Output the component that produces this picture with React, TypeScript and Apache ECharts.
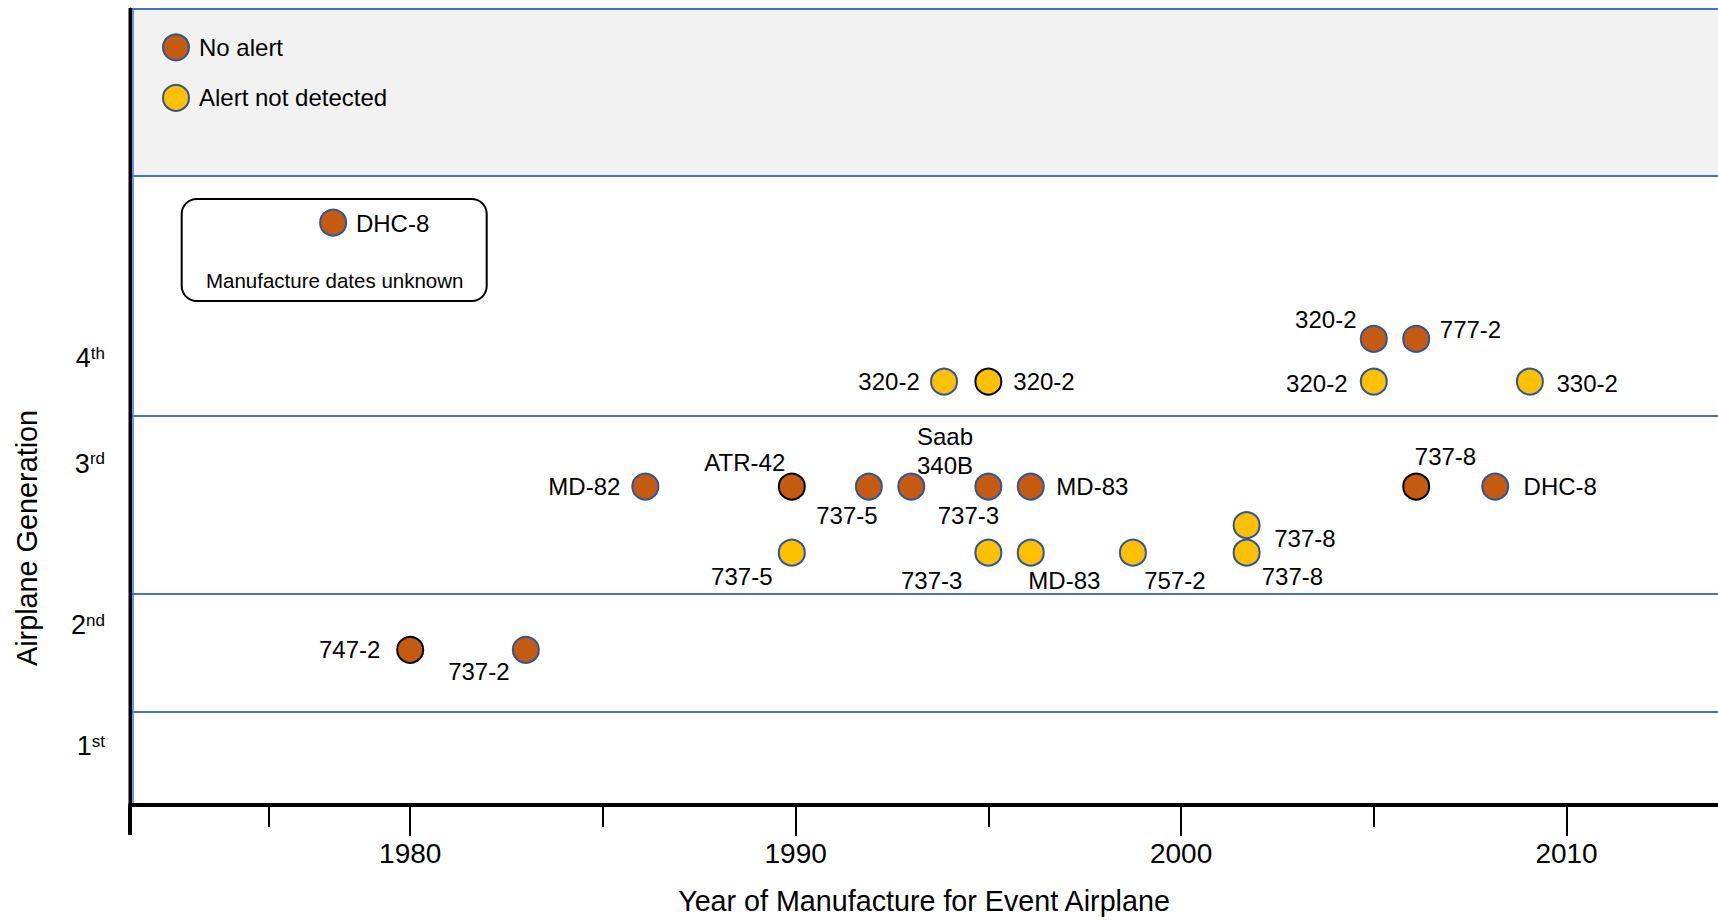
import React, { useEffect, useRef } from 'react';
import * as echarts from 'echarts';

const FONT = '"Liberation Sans", Arial, Helvetica, sans-serif';

// ---------- X axis: year of manufacture ----------
const xMin = 1972.73;
const xMax = 2013.93;
const majorYears = [1980, 1990, 2000, 2010];
const minorYears = [1976.33, 1985, 1995, 2005];

// ---------- Y axis: generation scale (0 = bottom of plot, 100 = top) ----------
const generationBandEdges = [11.75, 26.57, 48.95, 79.02, 100];
const generationLabelLevels = [7.35, 22.6, 42.9, 56.15];
const generationNumbers = ['1', '2', '3', '4'];
const generationSuffixes = ['st', 'nd', 'rd', 'th'];
const legendBandLevels = [79.02, 100];

// ---------- Series: No alert ----------
const noAlertNames = ['DHC-8', '747-2', '737-2', 'MD-82', 'ATR-42', '737-5', 'Saab 340B', '737-3', 'MD-83', '320-2', '777-2', '737-8', 'DHC-8'];
const noAlertYears = [1978, 1980, 1983, 1986.1, 1989.9, 1991.9, 1993, 1995, 1996.1, 2005, 2006.1, 2006.1, 2008.15];
const noAlertLevels = [73.15, 19.5, 19.5, 40, 40, 40, 40, 40, 40, 58.55, 58.55, 40, 40];

// ---------- Series: Alert not detected ----------
const alertNames = ['320-2', '320-2', '737-5', '737-3', 'MD-83', '757-2', '737-8', '737-8', '320-2', '330-2'];
const alertYears = [1993.85, 1995, 1989.9, 1995, 1996.1, 1998.75, 2001.7, 2001.7, 2005, 2009.05];
const alertLevels = [53.2, 53.2, 31.7, 31.7, 31.7, 31.7, 35.15, 31.7, 53.2, 53.2];

// ---------- Styling (label placement / outline per point) ----------
const noAlertLabelOffsets = [[59.5, 1], [-60.5, 0], [-47, 21.5], [-61, 0], [-47, -24], [-22, 28.7], [33.7, -36], [-20, 28.7], [61.6, 0], [-48, -19], [54.3, -9.7], [29.3, -30], [65, 0]];
const noAlertBlackOutline = [false, true, false, false, true, false, false, false, false, false, false, true, false];
const alertLabelOffsets = [[-55, 0], [55.6, 0], [-50, 24], [-56.7, 27.5], [33.6, 27.5], [42, 27.5], [58.3, 12.9], [45.8, 23.7], [-57, 1.7], [57.3, 2]];
const alertBlackOutline = [false, true, false, false, false, false, false, false, false, false];

const BROWN = '#C55A11';
const YELLOW = '#FFC000';
const OUTLINE = '#2F5597';
const GRID_BLUE = '#4472C4';

function buildData(names: string[], years: number[], levels: number[], offsets: number[][], black: boolean[]) {
  return years.map((x, i) => ({
    name: names[i],
    value: [x, levels[i]],
    itemStyle: black[i] ? { borderColor: '#000' } : undefined,
    label: {
      offset: offsets[i],
      formatter: names[i].replace(' ', '\n'),
    },
  }));
}

export default function App() {
  const ref = useRef<HTMLDivElement>(null);

  useEffect(() => {
    if (!ref.current) return;
    const chart = echarts.init(ref.current, undefined, { renderer: 'svg' });

    const labelBase = {
      show: true,
      position: 'inside',
      color: '#000',
      fontSize: 24,
      lineHeight: 29,
      fontFamily: FONT,
    };

    const option: any = {
      animation: false,
      backgroundColor: '#fff',
      textStyle: { fontFamily: FONT },
      grid: { left: 130, right: 0, top: 9, bottom: 113, containLabel: false },
      legend: {
        orient: 'vertical',
        left: 162,
        top: 33.3,
        padding: 0,
        itemWidth: 26,
        itemHeight: 26,
        itemGap: 22.5,
        icon: 'circle',
        itemStyle: { borderColor: OUTLINE, borderWidth: 2 },
        textStyle: { fontSize: 24, color: '#000', fontFamily: FONT, padding: [0, 0, 0, 5] },
        data: ['No alert', 'Alert not detected'],
      },
      xAxis: [
        {
          type: 'value',
          min: xMin,
          max: xMax,
          position: 'bottom',
          name: 'Year of Manufacture for Event Airplane',
          nameLocation: 'middle',
          nameGap: 81,
          nameTextStyle: { fontSize: 28.7, color: '#000', fontFamily: FONT },
          axisLine: { show: true, lineStyle: { color: '#000', width: 4 } },
          axisTick: { show: true, customValues: majorYears, length: 31, lineStyle: { color: '#000', width: 2 } },
          axisLabel: { show: true, customValues: majorYears, margin: 34, fontSize: 28, color: '#000', fontFamily: FONT, formatter: (v: number) => String(Math.round(v)) },
          splitLine: { show: false },
          z: 10,
        },
        {
          type: 'value',
          min: xMin,
          max: xMax,
          position: 'bottom',
          axisLine: { show: false },
          axisTick: { show: true, customValues: minorYears, length: 22, lineStyle: { color: '#000', width: 2 } },
          axisLabel: { show: false },
          splitLine: { show: false },
        },
      ],
      yAxis: {
        type: 'value',
        min: 0,
        max: 100,
        z: 10,
        axisLine: { show: true, lineStyle: { color: '#000', width: 3 } },
        axisTick: { show: false },
        splitLine: { show: false },
        axisLabel: {
          show: true,
          customValues: generationLabelLevels,
          margin: 25,
          formatter: (v: number) => {
            const i = generationLabelLevels.findIndex((g) => Math.abs(g - v) < 1e-6);
            if (i < 0) return '';
            return `{n|${generationNumbers[i]}}{s|${generationSuffixes[i]}}`;
          },
          rich: {
            n: { fontSize: 27, color: '#000', fontFamily: FONT },
            s: { fontSize: 17, color: '#000', fontFamily: FONT, verticalAlign: 'top' },
          },
        },
      },
      series: [
        {
          name: 'No alert',
          type: 'scatter',
          xAxisIndex: 0,
          symbol: 'circle',
          symbolSize: 26,
          itemStyle: { color: BROWN, borderColor: OUTLINE, borderWidth: 2, opacity: 1 },
          label: labelBase,
          data: buildData(noAlertNames, noAlertYears, noAlertLevels, noAlertLabelOffsets, noAlertBlackOutline),
          z: 5,
          markArea: {
            silent: true,
            itemStyle: { color: '#F2F2F2', borderWidth: 0 },
            data: [[{ yAxis: legendBandLevels[0] }, { yAxis: legendBandLevels[1] }]],
          },
          markLine: {
            silent: true,
            symbol: 'none',
            label: { show: false },
            lineStyle: { color: GRID_BLUE, width: 2, type: 'solid' },
            data: [
              ...generationBandEdges.map((v) => ({ yAxis: v })),
              { xAxis: xMin + 0.06, lineStyle: { width: 1.5 } },
            ],
          },
        },
        {
          name: 'Alert not detected',
          type: 'scatter',
          xAxisIndex: 0,
          symbol: 'circle',
          symbolSize: 26,
          itemStyle: { color: YELLOW, borderColor: OUTLINE, borderWidth: 2, opacity: 1 },
          label: labelBase,
          data: buildData(alertNames, alertYears, alertLevels, alertLabelOffsets, alertBlackOutline),
          z: 5,
        },
      ],
      graphic: [
        {
          type: 'rect',
          shape: { x: 181.7, y: 199, width: 305, height: 102, r: 15 },
          style: { fill: 'none', stroke: '#000', lineWidth: 2 },
          z: 1,
        },
        {
          type: 'text',
          x: 334.7,
          y: 280,
          style: { text: 'Manufacture dates unknown', fontSize: 20.5, fontFamily: FONT, fill: '#000', align: 'center', verticalAlign: 'middle' },
        },
        {
          type: 'text',
          x: 27,
          y: 538,
          rotation: Math.PI / 2,
          style: { text: 'Airplane Generation', fontSize: 28.8, fontFamily: FONT, fill: '#000', align: 'center', verticalAlign: 'middle' },
        },
        {
          type: 'line',
          shape: { x1: 130, y1: 805, x2: 130, y2: 835 },
          style: { stroke: '#000', lineWidth: 4 },
        },
        {
          type: 'line',
          shape: { x1: 130, y1: 8, x2: 130, y2: 808 },
          style: { stroke: '#000', lineWidth: 3 },
          z: 100,
        },
      ],
    };

    chart.setOption(option);
    return () => chart.dispose();
  }, []);

  return <div ref={ref} style={{ position: 'fixed', left: 0, top: 0, width: 1718, height: 920, background: '#fff' }} />;
}
